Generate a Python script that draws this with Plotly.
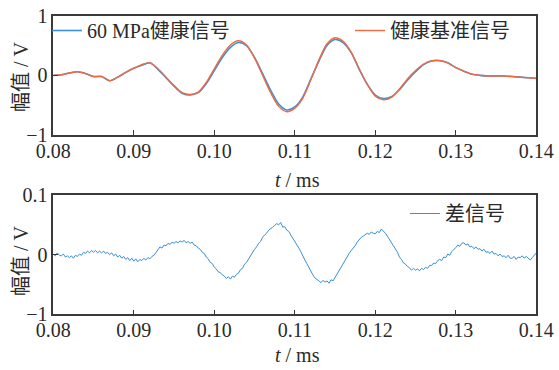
import plotly.graph_objects as go

# ---------------- data ----------------
t_top = [round(0.080 + 0.001 * i, 3) for i in range(61)]

healthy_60mpa = [
    0.00, 0.01, 0.04, 0.06, 0.03, -0.02, -0.02, -0.09, -0.03, 0.05,
    0.12, 0.17, 0.21, 0.10, -0.04, -0.18, -0.30, -0.33, -0.29, -0.14,
    0.08, 0.30, 0.47, 0.55, 0.50, 0.30, 0.03, -0.25, -0.48, -0.58,
    -0.53, -0.36, -0.06, 0.24, 0.50, 0.60, 0.55, 0.38, 0.10, -0.15,
    -0.33, -0.39, -0.36, -0.24, -0.08, 0.06, 0.18, 0.24, 0.245, 0.21,
    0.13, 0.07, 0.02, 0.00, -0.01, -0.01, -0.01, -0.02, -0.03, -0.04,
    -0.05,
]

healthy_baseline = [
    0.00, 0.01, 0.04, 0.06, 0.03, -0.02, -0.02, -0.09, -0.03, 0.05,
    0.12, 0.18, 0.21, 0.11, -0.03, -0.17, -0.29, -0.32, -0.28, -0.12,
    0.11, 0.34, 0.51, 0.58, 0.51, 0.29, 0.00, -0.29, -0.52, -0.61,
    -0.55, -0.38, -0.07, 0.26, 0.53, 0.63, 0.57, 0.39, 0.11, -0.15,
    -0.35, -0.41, -0.37, -0.23, -0.06, 0.08, 0.19, 0.245, 0.25, 0.21,
    0.13, 0.07, 0.02, 0.00, -0.01, -0.01, -0.01, -0.02, -0.03, -0.04,
    -0.05,
]

t_diff = [round(0.080 + 0.00025 * i, 5) for i in range(241)]

diff_signal = [
    0.001, -0.002, 0.003, -0.001,
    -0.002, 0.001, -0.004, -0.002,
    -0.005, -0.002, -0.006, -0.001,
    -0.003, 0.001, -0.001, 0.004,
    0.002, 0.006, 0.003, 0.007,
    0.004, 0.007, 0.003, 0.006,
    0.003, 0.006, 0.002, 0.004,
    0.000, 0.003, -0.002, 0.001,
    -0.004, -0.001, -0.006, -0.003,
    -0.008, -0.005, -0.010, -0.006,
    -0.011, -0.007, -0.012, -0.008,
    -0.010, -0.006, -0.009, -0.005,
    -0.007, -0.003, -0.001, 0.004,
    0.009, 0.013, 0.011, 0.016,
    0.015, 0.019, 0.017, 0.021,
    0.019, 0.022, 0.020, 0.023,
    0.021, 0.024, 0.020, 0.022,
    0.019, 0.021, 0.016, 0.015,
    0.011, 0.009, 0.004, 0.002,
    -0.004, -0.007, -0.013, -0.015,
    -0.021, -0.024, -0.029, -0.030,
    -0.034, -0.036, -0.040, -0.037,
    -0.041, -0.036, -0.038, -0.033,
    -0.031, -0.025, -0.023, -0.016,
    -0.013, -0.007, -0.002, 0.004,
    0.009, 0.013, 0.019, 0.022,
    0.029, 0.033, 0.036, 0.041,
    0.043, 0.046, 0.049, 0.052,
    0.050, 0.054, 0.046, 0.047,
    0.041, 0.039, 0.033, 0.028,
    0.023, 0.017, 0.011, 0.005,
    -0.003, -0.009, -0.015, -0.022,
    -0.029, -0.034, -0.039, -0.041,
    -0.044, -0.047, -0.043, -0.046,
    -0.044, -0.048, -0.042, -0.044,
    -0.038, -0.033, -0.028, -0.021,
    -0.016, -0.009, -0.004, 0.002,
    0.007, 0.011, 0.015, 0.021,
    0.025, 0.029, 0.031, 0.034,
    0.036, 0.034, 0.038, 0.036,
    0.035, 0.039, 0.037, 0.043,
    0.040, 0.036, 0.031, 0.026,
    0.021, 0.016, 0.009, 0.004,
    -0.004, -0.008, -0.014, -0.016,
    -0.020, -0.022, -0.026, -0.023,
    -0.026, -0.024, -0.027, -0.023,
    -0.025, -0.021, -0.023, -0.018,
    -0.018, -0.014, -0.015, -0.010,
    -0.008, -0.010, -0.004, -0.005,
    0.001, -0.001, 0.005, 0.008,
    0.012, 0.016, 0.014, 0.019,
    0.020, 0.016, 0.018, 0.013,
    0.014, 0.010, 0.013, 0.009,
    0.010, 0.006, 0.009, 0.004,
    0.005, 0.002, 0.006, 0.001,
    0.002, -0.002, 0.001, -0.003,
    -0.002, -0.005, -0.001, -0.006,
    -0.006, -0.003, -0.008, -0.004,
    -0.005, -0.002, -0.006, -0.003,
    -0.006, -0.009, -0.005, 0.000,
    0.003,
]

x_tickvals = [0.08, 0.09, 0.10, 0.11, 0.12, 0.13, 0.14]
x_ticktext = ["0.08", "0.09", "0.10", "0.11", "0.12", "0.13", "0.14"]
y_top_tickvals = [-1, 0, 1]
y_top_ticktext = ["\u22121", "0", "1"]
y_bot_tickvals = [-0.1, 0, 0.1]
y_bot_ticktext = ["\u22121", "0", "0.1"]

name_a = "60 MPa健康信号"
name_b = "健康基准信号"
name_c = "差信号"

# ---------------- figure ----------------
W, H = 559, 370
FONT = '"Liberation Serif", "Times New Roman", Times, "Noto Sans CJK SC", serif'
TXT = "#2a2a2a"
AX = "#3a3a3a"

def px_x(p):
    return p / W

def px_y(p):
    return 1 - p / H

xdom = [px_x(53.3), px_x(536.3)]

fig = go.Figure()
fig.add_trace(go.Scatter(x=t_top, y=healthy_60mpa, mode="lines", name=name_a,
                         line=dict(color="#3b8fd8", width=1.6, shape="spline", smoothing=0.8),
                         xaxis="x", yaxis="y", legend="legend"))
fig.add_trace(go.Scatter(x=t_top, y=healthy_baseline, mode="lines", name=name_b,
                         line=dict(color="#f06a40", width=1.4, shape="spline", smoothing=0.8),
                         xaxis="x", yaxis="y", legend="legend2"))
fig.add_trace(go.Scatter(x=t_diff, y=diff_signal, mode="lines", name=name_c,
                         line=dict(color="#3a8ed6", width=1.0),
                         xaxis="x2", yaxis="y2", legend="legend3"))

axis_common = dict(showgrid=False, zeroline=False, showline=True, linecolor=AX,
                   linewidth=1.5, mirror=True, ticks="inside", ticklen=5,
                   tickwidth=1.3, tickcolor=AX, automargin=False,
                   tickfont=dict(family=FONT, size=20, color=TXT))

leg_common = dict(xanchor="left", yanchor="top", bgcolor="rgba(0,0,0,0)",
                  borderwidth=0, font=dict(family=FONT, size=20, color=TXT))

fig.update_layout(
    width=W, height=H,
    margin=dict(l=0, r=0, t=0, b=0, autoexpand=False),
    paper_bgcolor="white", plot_bgcolor="white",
    showlegend=True,
    font=dict(family=FONT, size=20, color=TXT),
    xaxis=dict(domain=xdom, range=[0.08, 0.14], anchor="y", ticklabelstandoff=-3,
               tickvals=x_tickvals, ticktext=x_ticktext, **axis_common),
    yaxis=dict(domain=[px_y(135), px_y(15.7)], range=[-1, 1], anchor="x",
               tickvals=y_top_tickvals, ticktext=y_top_ticktext, **axis_common),
    xaxis2=dict(domain=xdom, range=[0.08, 0.14], anchor="y2", ticklabelstandoff=-3,
                tickvals=x_tickvals, ticktext=x_ticktext, **axis_common),
    yaxis2=dict(domain=[px_y(314.3), px_y(195)], range=[-0.1, 0.1], anchor="x2",
                tickvals=y_bot_tickvals, ticktext=y_bot_ticktext, **axis_common),
    legend=dict(x=px_x(47), y=px_y(11), visible=True, **leg_common),
    legend2=dict(x=px_x(350), y=px_y(11), visible=True, **leg_common),
    legend3=dict(x=px_x(405), y=px_y(194), visible=True, **leg_common),
    annotations=[
        dict(text="<i>t</i> / ms", x=px_x(297), y=px_y(180), xref="paper", yref="paper",
             showarrow=False, xanchor="center", yanchor="middle",
             font=dict(family=FONT, size=20, color=TXT)),
        dict(text="<i>t</i> / ms", x=px_x(297), y=px_y(355), xref="paper", yref="paper",
             showarrow=False, xanchor="center", yanchor="middle",
             font=dict(family=FONT, size=20, color=TXT)),
        dict(text="幅值 / V", x=px_x(21), y=px_y(77), xref="paper", yref="paper",
             showarrow=False, xanchor="center", yanchor="middle", textangle=-90,
             font=dict(family=FONT, size=20, color=TXT)),
        dict(text="幅值 / V", x=px_x(21), y=px_y(261), xref="paper", yref="paper",
             showarrow=False, xanchor="center", yanchor="middle", textangle=-90,
             font=dict(family=FONT, size=20, color=TXT)),
    ],
)

fig.write_html("out.html", config={"displayModeBar": False},
               post_script="document.body.style.margin='0';document.body.style.overflow='hidden';")
